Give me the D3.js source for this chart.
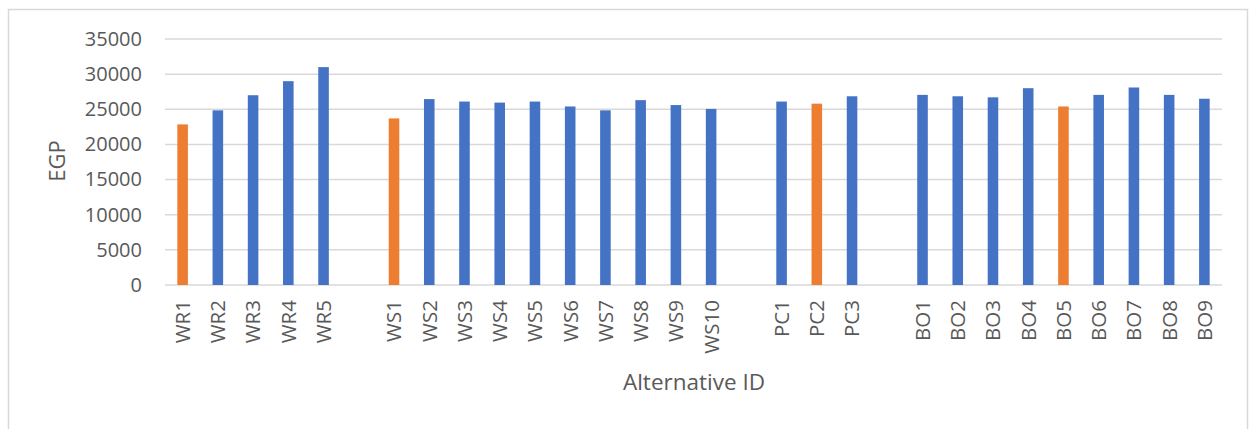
<!DOCTYPE html>
<html>
<head>
<meta charset="utf-8">
<script src="https://cdn.jsdelivr.net/npm/d3@7"></script>
<style>
  html, body { margin: 0; padding: 0; background: #fff; }
  svg { display: block; }
  text { font-family: "Open Sans", "Noto Sans", sans-serif; fill: #595959; }
</style>
</head>
<body>
<svg id="chart" width="1249" height="429"></svg>
<script>
// Alternatives, with empty slots separating the four groups
const categories = [
  "WR1", "WR2", "WR3", "WR4", "WR5", "",
  "WS1", "WS2", "WS3", "WS4", "WS5", "WS6", "WS7", "WS8", "WS9", "WS10", "",
  "PC1", "PC2", "PC3", "",
  "BO1", "BO2", "BO3", "BO4", "BO5", "BO6", "BO7", "BO8", "BO9"
];
// EGP per alternative (null = spacer slot)
const egp = [
  22850, 24850, 27000, 29000, 31000, null,
  23700, 26450, 26100, 25950, 26100, 25400, 24850, 26300, 25600, 25050, null,
  26100, 25800, 26850, null,
  27050, 26850, 26700, 28000, 25400, 27050, 28100, 27050, 26500
];
// Reference alternatives drawn in orange
const highlighted = ["WR1", "WS1", "PC2", "BO5"];
const yTicks = [0, 5000, 10000, 15000, 20000, 25000, 30000, 35000];

const svg = d3.select("#chart");

// chart frame
svg.append("rect")
  .attr("x", 8.5).attr("y", 9.5)
  .attr("width", 1239).attr("height", 440)
  .attr("fill", "none").attr("stroke", "#d9d9d9").attr("stroke-width", 1.5);

const plotLeft = 165, plotRight = 1222, plotTop = 39, plotBottom = 285;

const x = d3.scaleBand()
  .domain(d3.range(categories.length))
  .range([plotLeft, plotRight])
  .paddingInner(0.7)
  .paddingOuter(0.35);

const y = d3.scaleLinear().domain([0, 35000]).range([plotBottom, plotTop]);

// horizontal gridlines
svg.append("g")
  .selectAll("line")
  .data(yTicks)
  .join("line")
  .attr("x1", plotLeft).attr("x2", plotRight)
  .attr("y1", d => y(d)).attr("y2", d => y(d))
  .attr("stroke", "#d9d9d9").attr("stroke-width", 1.5);

// y axis tick labels
const yAxis = d3.axisLeft(y).tickValues(yTicks).tickSize(0).tickPadding(23).tickFormat(d3.format("d"));
svg.append("g")
  .attr("transform", `translate(${plotLeft},0)`)
  .call(yAxis)
  .call(g => g.select(".domain").remove())
  .selectAll("text")
  .style("font-size", "20px")
  .attr("fill", "#595959");

// bars
const bars = categories.map((c, i) => ({ i, c, v: egp[i] })).filter(d => d.v !== null);
svg.append("g")
  .selectAll("rect")
  .data(bars)
  .join("rect")
  .attr("x", d => x(d.i))
  .attr("width", x.bandwidth())
  .attr("y", d => y(d.v))
  .attr("height", d => y(0) - y(d.v))
  .attr("fill", d => highlighted.includes(d.c) ? "#ED7D31" : "#4472C4");

// x axis labels (rotated)
svg.append("g")
  .selectAll("text")
  .data(bars)
  .join("text")
  .attr("transform", d => `translate(${x(d.i) + x.bandwidth() / 2},300) rotate(-90)`)
  .attr("text-anchor", "end")
  .attr("dy", "0.36em")
  .style("font-size", "20.5px")
  .text(d => d.c);

// axis titles
svg.append("text")
  .attr("x", 694).attr("y", 390)
  .attr("text-anchor", "middle")
  .style("font-size", "22.5px")
  .text("Alternative ID");

svg.append("text")
  .attr("transform", "translate(65,161) rotate(-90)")
  .attr("text-anchor", "middle")
  .style("font-size", "22px")
  .text("EGP");
</script>
</body>
</html>
